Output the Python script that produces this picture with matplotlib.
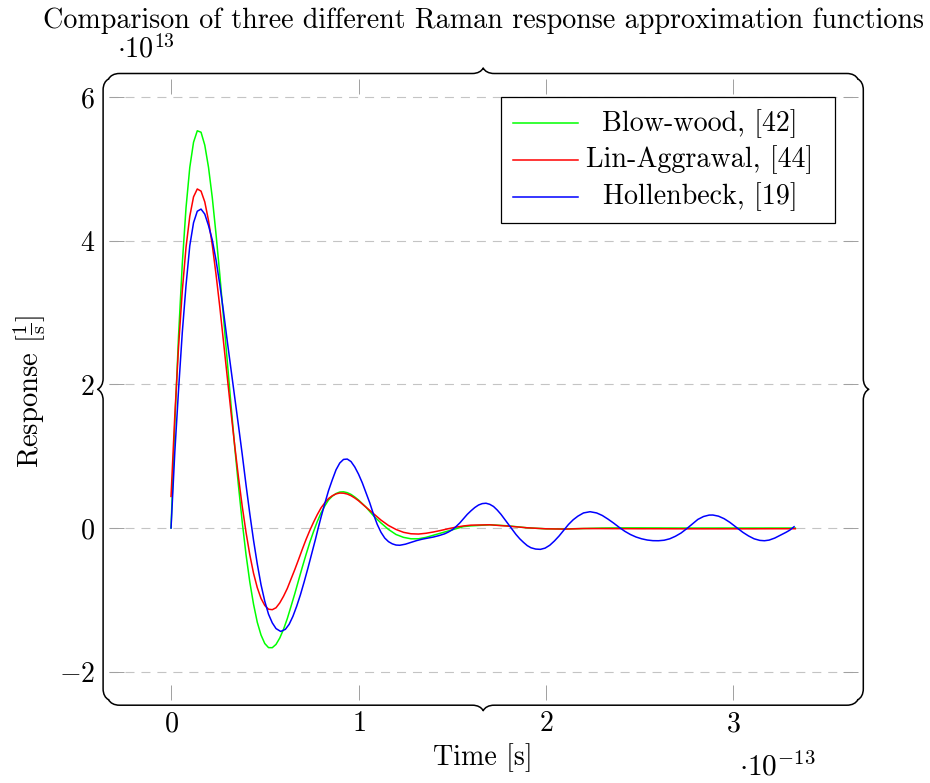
import matplotlib
matplotlib.use("Agg")
import matplotlib.pyplot as plt
import matplotlib.transforms as mtransforms
from matplotlib.path import Path
from matplotlib.patches import PathPatch, Rectangle
from matplotlib.lines import Line2D

plt.rcParams['font.family'] = 'serif'
plt.rcParams['font.serif'] = ['cmr10']
plt.rcParams['mathtext.fontset'] = 'cm'
plt.rcParams['axes.formatter.use_mathtext'] = True
plt.rcParams['lines.scale_dashes'] = False

# time axis in units of 1e-13 s, response in units of 1e13 1/s
t_bw = [0, 0.02, 0.04, 0.06, 0.08, 0.10, 0.12, 0.14, 0.16, 0.18, 0.20, 0.22,
        0.24, 0.26, 0.28, 0.30, 0.32, 0.34, 0.36, 0.38, 0.40, 0.42, 0.44, 0.46,
        0.48, 0.50, 0.52, 0.54, 0.56, 0.58, 0.60, 0.62, 0.64, 0.66, 0.68, 0.70,
        0.72, 0.74, 0.76, 0.78, 0.80, 0.82, 0.84, 0.86, 0.88, 0.90, 0.92, 0.94,
        0.96, 0.98, 1.00, 1.04, 1.08, 1.12, 1.16, 1.20, 1.24, 1.28, 1.32, 1.36,
        1.40, 1.44, 1.48, 1.52, 1.56, 1.60, 1.7, 1.8, 1.9, 2.0, 2.1, 2.2,
        2.3, 2.4, 2.5, 2.6, 2.7, 2.8, 2.9, 3.0, 3.1, 3.2, 3.3, 3.33]

blow_wood = [0, 1.44, 2.67, 3.68, 4.46, 5.02, 5.37, 5.53, 5.51, 5.33, 5.02, 4.60,
             4.09, 3.53, 2.93, 2.32, 1.71, 1.12, 0.58, 0.077, -0.37, -0.749, -1.06, -1.312,
             -1.49, -1.608, -1.665, -1.666, -1.62, -1.531, -1.41, -1.262, -1.09, -0.915, -0.73, -0.546,
             -0.37, -0.201, -0.05, 0.09, 0.21, 0.307, 0.39, 0.443, 0.48, 0.501, 0.504, 0.492,
             0.468, 0.432, 0.39, 0.29, 0.17, 0.07, -0.02, -0.09, -0.13, -0.15, -0.15, -0.13,
             -0.10, -0.07, -0.04, -0.01, 0.02, 0.03, 0.045, 0.03, 0.003, -0.011, -0.013, -0.007,
             0.0, 0.002, 0.002, 0.001, 0.0, 0.0, 0.0, 0.0, 0.0, 0.0, 0.0, 0.0]

lin_agrawal = [0.44, 1.56, 2.52, 3.30, 3.91, 4.34, 4.61, 4.72, 4.69, 4.54, 4.28, 3.94,
               3.53, 3.08, 2.59, 2.10, 1.61, 1.14, 0.70, 0.297, -0.06, -0.371, -0.63, -0.83,
               -0.98, -1.078, -1.13, -1.137, -1.11, -1.042, -0.95, -0.842, -0.71, -0.579, -0.44, -0.297,
               -0.16, -0.035, 0.08, 0.186, 0.28, 0.35, 0.41, 0.449, 0.475, 0.487, 0.485, 0.473,
               0.45, 0.418, 0.38, 0.29, 0.20, 0.11, 0.035, -0.02, -0.06, -0.08, -0.084, -0.073,
               -0.055, -0.033, -0.009, 0.012, 0.029, 0.040, 0.045, 0.026, 0.003, -0.011, -0.015, -0.007,
               -0.008, -0.009, -0.010, -0.010, -0.011, -0.011, -0.011, -0.011, -0.011, -0.010, -0.010, -0.010]

t_hb = [0, 0.02, 0.04, 0.06, 0.08, 0.10, 0.12, 0.14, 0.16, 0.18, 0.20, 0.22,
        0.24, 0.26, 0.28, 0.30, 0.32, 0.34, 0.36, 0.38, 0.40, 0.42, 0.44, 0.46,
        0.48, 0.50, 0.52, 0.54, 0.56, 0.585, 0.61, 0.63, 0.65, 0.67, 0.69, 0.71,
        0.73, 0.75, 0.77, 0.785, 0.80, 0.82, 0.84, 0.86, 0.88, 0.90, 0.92, 0.94,
        0.96, 0.98, 1.00, 1.02, 1.04, 1.06, 1.08, 1.10, 1.12, 1.14, 1.16, 1.18,
        1.20, 1.22, 1.25, 1.28, 1.31, 1.34, 1.37, 1.40, 1.43, 1.46, 1.48, 1.50,
        1.52, 1.54, 1.56, 1.58, 1.60, 1.62, 1.64, 1.66, 1.68, 1.70, 1.72, 1.74,
        1.76, 1.78, 1.80, 1.82, 1.84, 1.86, 1.88, 1.90, 1.92, 1.945, 1.97, 1.995,
        2.02, 2.045, 2.07, 2.095, 2.12, 2.145, 2.17, 2.20, 2.235, 2.27, 2.30, 2.33,
        2.36, 2.39, 2.42, 2.45, 2.48, 2.51, 2.54, 2.57, 2.60, 2.63, 2.66, 2.69,
        2.72, 2.75, 2.78, 2.81, 2.84, 2.87, 2.89, 2.92, 2.95, 2.98, 3.00, 3.02,
        3.05, 3.08, 3.11, 3.14, 3.165, 3.19, 3.22, 3.25, 3.28, 3.30, 3.323]

hollenbeck = [0, 1.05, 1.92, 2.72, 3.38, 3.93, 4.25, 4.41, 4.44, 4.37, 4.21, 4.01,
              3.73, 3.39, 3.01, 2.60, 2.21, 1.81, 1.42, 1.02, 0.60, 0.20, -0.17, -0.50,
              -0.79, -1.02, -1.20, -1.32, -1.40, -1.44, -1.41, -1.34, -1.23, -1.09, -0.93, -0.75,
              -0.56, -0.36, -0.16, 0.0, 0.15, 0.34, 0.52, 0.67, 0.81, 0.905, 0.955, 0.96,
              0.925, 0.85, 0.75, 0.63, 0.49, 0.35, 0.19, 0.05, -0.06, -0.14, -0.19, -0.22,
              -0.237, -0.24, -0.225, -0.20, -0.175, -0.155, -0.14, -0.125, -0.105, -0.08, -0.055, -0.025,
              0.02, 0.07, 0.13, 0.19, 0.24, 0.285, 0.32, 0.34, 0.345, 0.33, 0.30, 0.25,
              0.19, 0.12, 0.05, -0.02, -0.09, -0.15, -0.20, -0.245, -0.275, -0.293, -0.297, -0.28,
              -0.24, -0.18, -0.11, -0.03, 0.05, 0.115, 0.165, 0.21, 0.227, 0.21, 0.175, 0.125,
              0.07, 0.01, -0.045, -0.09, -0.125, -0.15, -0.167, -0.176, -0.177, -0.17, -0.15, -0.115,
              -0.07, -0.01, 0.055, 0.12, 0.16, 0.18, 0.181, 0.165, 0.13, 0.08, 0.04, 0.0,
              -0.06, -0.11, -0.15, -0.172, -0.177, -0.168, -0.14, -0.10, -0.06, -0.03, 0.018]

series_names = ['Blow-wood, [42]', 'Lin-Aggrawal, [44]', 'Hollenbeck, [19]']
series_colors = ['#00ff00', '#ff0000', '#0000ff']
x_ticks = [0, 1, 2, 3]
y_ticks = [-2, 0, 2, 4, 6]

W, H = 930, 783
fs = 20.2
fig = plt.figure(figsize=(W / 100, H / 100), dpi=100)
# pixel coordinates, origin top-left
px = mtransforms.Affine2D().scale(1 / W, -1 / H).translate(0, 1) + fig.transFigure

L, R, T, B = 108.6, 857.8, 79.0, 699.7
ax = fig.add_axes([L / W, 1 - B / H, (R - L) / W, (B - T) / H])
ax.set_xlim(-0.333, 3.663)
ax.set_ylim(-2.390, 6.251)
for s in ax.spines.values():
    s.set_visible(False)

ax.plot(t_bw, blow_wood, color=series_colors[0], lw=1.1, solid_joinstyle='round')
ax.plot(t_bw, lin_agrawal, color=series_colors[1], lw=1.1, solid_joinstyle='round')
ax.plot(t_hb, hollenbeck, color=series_colors[2], lw=1.1, solid_joinstyle='round')

ax.set_xticks(x_ticks)
ax.set_yticks(y_ticks)
ax.yaxis.grid(True, color='#c4c4c4', lw=0.8, linestyle=(0, (6.5, 5)))
ax.tick_params(axis='both', direction='in', length=10.5, width=0.7,
               color='#a0a0a0', top=True, right=True, labelsize=fs)
ax.tick_params(axis='x', pad=8.0)
ax.tick_params(axis='y', pad=9.8)


def brace(p0, p1, a):
    # tikz style curly brace from p0 to p1, bulging to the left of travel
    (x0, y0), (x1, y1) = p0, p1
    length = ((x1 - x0) ** 2 + (y1 - y0) ** 2) ** 0.5
    dx, dy = (x1 - x0) / length, (y1 - y0) / length
    nx, ny = dy, -dx
    m = length / 2
    pts = [(0, 0), (.15 * a, .3 * a), (.5 * a, .5 * a), (a, .5 * a),
           (m - a, .5 * a), (m - .5 * a, .5 * a), (m - .15 * a, .7 * a), (m, a),
           (m + .15 * a, .7 * a), (m + .5 * a, .5 * a), (m + a, .5 * a),
           (length - a, .5 * a), (length - .5 * a, .5 * a), (length - .15 * a, .3 * a),
           (length, 0)]
    codes = [Path.MOVETO, Path.CURVE4, Path.CURVE4, Path.CURVE4,
             Path.LINETO, Path.CURVE4, Path.CURVE4, Path.CURVE4,
             Path.CURVE4, Path.CURVE4, Path.CURVE4,
             Path.LINETO, Path.CURVE4, Path.CURVE4, Path.CURVE4]
    verts = [(x0 + s * dx + h * nx, y0 + s * dy + h * ny) for s, h in pts]
    return Path(verts, codes)


amp = 11
for p0, p1 in [((L, T), (R, T)), ((R, T), (R, B)), ((R, B), (L, B)), ((L, B), (L, T))]:
    fig.patches.append(PathPatch(brace(p0, p1, amp), transform=px, fill=False,
                                 lw=1.1, edgecolor='black', capstyle='round',
                                 joinstyle='round'))

# legend box
fig.patches.append(Rectangle((500.7, 97.3), 334.0, 126.0, transform=px,
                             facecolor='white', edgecolor='black', lw=0.9))
for i, (name, col) in enumerate(zip(series_names, series_colors)):
    y = 123.3 + i * 36.7
    fig.lines.append(Line2D([513.3, 578.3], [y, y], transform=px, color=col, lw=1.1))
    fig.text(700, y + 7.5, name, transform=px, ha='center', va='baseline', fontsize=fs)

fig.text(483, 28, 'Comparison of three different Raman response approximation functions',
         transform=px, ha='center', va='baseline', fontsize=fs)
fig.text(117, 58, r'$\cdot10^{13}$', transform=px, ha='left', va='baseline', fontsize=fs)
fig.text(739, 776, r'$\cdot10^{-13}$', transform=px, ha='left', va='baseline', fontsize=fs + 1)
fig.text(483, 765, 'Time [s]', transform=px, ha='center', va='baseline', fontsize=fs)
fig.text(30, 391, r'Response [$\frac{1}{\mathrm{s}}$]', transform=px, ha='center',
         va='center', rotation=90, fontsize=fs + 0.5)

fig.savefig('out.png', dpi=100)
